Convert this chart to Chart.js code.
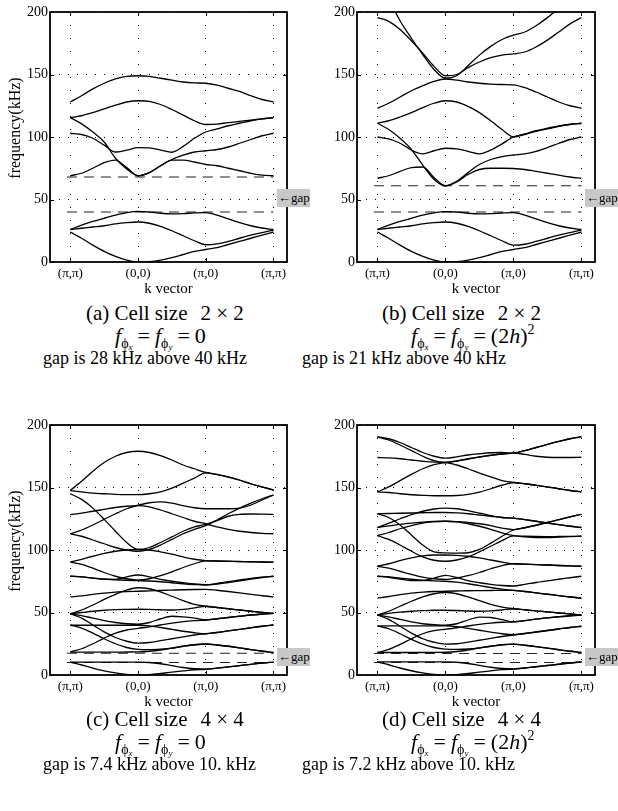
<!DOCTYPE html>
<html><head><meta charset="utf-8">
<script src="https://cdn.jsdelivr.net/npm/chart.js@4.4.0/dist/chart.umd.min.js"></script>
<style>
html,body{margin:0;padding:0;background:#fff;}
body{width:618px;height:811px;position:relative;overflow:hidden;font-family:"Liberation Serif","DejaVu Serif","Times New Roman",serif;color:#000;}
canvas{position:absolute;}
.cap{position:absolute;white-space:nowrap;line-height:1;}
.l1{font-size:21px;}
.l2{font-size:22px;}
.l3{font-size:18px;}
.gapx{margin-left:13px;}
.sub{font-size:14px;position:relative;top:5px;}
.sub2{font-size:9px;position:relative;top:2px;font-style:italic;}
.eq{margin:0 5px;}
.sup{font-size:14px;position:relative;top:-9px;}
.gap{position:absolute;background:#c8c8c8;font-size:13px;line-height:18px;height:18px;width:33px;padding-left:1px;box-sizing:border-box;white-space:nowrap;overflow:hidden;}
.ytitle{position:absolute;font-size:16px;white-space:nowrap;transform:translate(-50%,-50%) rotate(-90deg);}
</style></head>
<body>
<canvas id="ca" width="309" height="300" style="left:0;top:0"></canvas>
<canvas id="cb" width="309" height="300" style="left:309px;top:0"></canvas>
<canvas id="cc" width="309" height="300" style="left:0;top:413px"></canvas>
<canvas id="cd" width="309" height="300" style="left:309px;top:413px"></canvas>

<div class="ytitle" style="left:15px;top:128px">frequency(kHz)</div>
<div class="ytitle" style="left:15px;top:541px">frequency(kHz)</div>

<div class="gap" style="left:277px;top:189px">←gap</div>
<div class="gap" style="left:585px;top:189px">←gap</div>
<div class="gap" style="left:277px;top:648px">←gap</div>
<div class="gap" style="left:585px;top:648px">←gap</div>

<div class="cap l1" style="left:86px;top:303px">(a) Cell size<span class="gapx">2 × 2</span></div>
<div class="cap l2" style="left:115px;top:325px"><i>f</i><span class="sub">ϕ<span class="sub2">x</span></span><span class="eq">=</span><i>f</i><span class="sub">ϕ<span class="sub2">y</span></span><span class="eq">=</span>0</div>
<div class="cap l3" style="left:43px;top:349px">gap is 28 kHz above 40 kHz</div>

<div class="cap l1" style="left:382px;top:303px">(b) Cell size<span class="gapx">2 × 2</span></div>
<div class="cap l2" style="left:411px;top:325px"><i>f</i><span class="sub">ϕ<span class="sub2">x</span></span><span class="eq">=</span><i>f</i><span class="sub">ϕ<span class="sub2">y</span></span><span class="eq">=</span>(2<i>h</i>)<span class="sup">2</span></div>
<div class="cap l3" style="left:302px;top:349px">gap is 21 kHz above 40 kHz</div>

<div class="cap l1" style="left:86px;top:709px">(c) Cell size<span class="gapx">4 × 4</span></div>
<div class="cap l2" style="left:115px;top:731px"><i>f</i><span class="sub">ϕ<span class="sub2">x</span></span><span class="eq">=</span><i>f</i><span class="sub">ϕ<span class="sub2">y</span></span><span class="eq">=</span>0</div>
<div class="cap l3" style="left:43px;top:755px">gap is 7.4 kHz above 10. kHz</div>

<div class="cap l1" style="left:382px;top:709px">(d) Cell size<span class="gapx">4 × 4</span></div>
<div class="cap l2" style="left:411px;top:731px"><i>f</i><span class="sub">ϕ<span class="sub2">x</span></span><span class="eq">=</span><i>f</i><span class="sub">ϕ<span class="sub2">y</span></span><span class="eq">=</span>(2<i>h</i>)<span class="sup">2</span></div>
<div class="cap l3" style="left:302px;top:755px">gap is 7.2 kHz above 10. kHz</div>

<script>
// ---- data ----
const K = [0, 0.167, 0.333, 0.5, 0.667, 0.833, 1, 1.167, 1.333, 1.5, 1.667, 1.833, 2, 2.167, 2.333, 2.5, 2.667, 2.833, 3];
const X_TICK_POS = [0, 1, 2, 3];
const X_TICK_LABELS = ['(π,π)', '(0,0)', '(π,0)', '(π,π)'];
const Y_MIN = 0, Y_MAX = 200, Y_STEP = 50;

const GAP_A = [40, 68];
const GAP_B = [40, 61];
const GAP_C = [10, 17.4];
const GAP_D = [10, 17.2];

const BANDS_A = [
  [128, 133, 138.5, 143, 146.5, 148.5, 149, 148.5, 147, 145.5, 144, 143.3, 143, 141.5, 139, 136.5, 133, 130, 128],
  [115.5, 117, 119.5, 122.5, 125.5, 128, 129, 128.5, 126, 122, 117.5, 113, 110, 110.3, 111.5, 112.5, 113.5, 114.5, 115.5],
  [115.5, 110.5, 104, 96, 83, 74.5, 69, 71.5, 77, 82, 85.5, 88, 89, 90, 92, 95, 98, 101, 103],
  [103, 102, 99, 93.5, 88, 89.5, 91.5, 91.3, 89.5, 87.8, 92.5, 99, 104, 106.5, 109, 111, 113, 114.5, 115.5],
  [69, 71, 75, 79.5, 81.5, 75.5, 69, 71.5, 77, 81.5, 81.5, 80, 78, 77, 75, 73, 71, 69.5, 69],
  [26, 29.5, 32.5, 35, 37.5, 39.5, 40.5, 40, 39, 38.5, 38.7, 39.3, 39.5, 37.5, 34.5, 31.5, 29, 27.2, 26],
  [26, 27, 28, 29, 30.5, 31.5, 32, 31, 28.5, 25, 21, 17, 13.8, 14.5, 16.5, 19, 21.5, 23.5, 25.5],
  [24, 19, 13.5, 8.5, 4.5, 1.5, 0, 0.3, 1.5, 3.5, 6, 8.5, 10, 11.5, 14, 16.5, 19, 21.5, 24]
];
const BANDS_B = [
  [195.5, 192.5, 186, 177, 167, 156.5, 149, 150, 155.5, 160, 163.5, 165.5, 166.5, 168, 172, 177.5, 184, 190.5, 195.5],
  [235, 211, 193, 179, 166, 154, 147, 149, 157, 165.5, 172.5, 178, 181.5, 184, 189, 195.5, 203, 210, 216],
  [123, 127, 132, 137, 141, 144.5, 146.4, 145.5, 144, 143, 142.3, 142, 141.7, 139.5, 136, 132, 128, 125, 123],
  [111, 113, 116, 119.5, 123.5, 127, 129, 128, 124.5, 119.5, 113, 106, 100, 102, 104.5, 106.5, 108.5, 110, 111],
  [111, 106, 99, 90, 77.5, 66, 61, 64.5, 71.5, 78, 82, 84.3, 85.6, 86.5, 88.5, 91.5, 95, 98, 100],
  [100, 98.5, 95, 89.5, 86.5, 89, 91, 90.5, 88.5, 86.5, 89.5, 94.5, 100, 102.5, 105, 107, 108.8, 110.2, 111],
  [67, 69, 72.5, 75.5, 76, 67.5, 61, 64, 70, 74, 75, 75, 74.8, 74, 72.5, 71, 69.5, 68, 67],
  [26, 29.5, 32.5, 35, 37.5, 39.3, 40.3, 40, 39, 38.5, 38.7, 39.2, 39.5, 37.5, 34.5, 31.5, 29, 27.2, 26],
  [26, 27, 28, 29, 30.5, 31.5, 32, 31, 28.5, 25, 21, 17, 13.5, 14.2, 16.5, 19, 21.5, 23.5, 25.5],
  [24, 19, 13.5, 8.5, 4.5, 1.5, 0, 0.3, 1.5, 3.5, 6, 8.5, 10, 11.5, 14, 16.5, 19, 21.5, 24]
];
const BANDS_C = [
  [147.7, 155, 163, 170, 175, 178, 179, 178, 175.5, 172, 168, 165, 162, 160.5, 158.5, 156, 153, 150.5, 148],
  [147.5, 146.5, 145.5, 145, 144.5, 144.3, 144.3, 145, 146.5, 149.5, 153.5, 157.5, 161.7, 160.3, 158.3, 155.8, 152.8, 150.3, 148],
  [145, 140.5, 133.5, 124.5, 115, 106, 100.5, 102, 106, 110.5, 115, 118.5, 120.5, 123.5, 127, 128.5, 128.8, 128.7, 128.5],
  [113, 111, 108, 105, 102, 100, 99, 100.5, 104, 108.5, 113, 116.5, 119.5, 124, 129, 133.5, 137.5, 141, 144],
  [128.3, 129.5, 131, 132.5, 134, 135, 135.5, 134.5, 132, 129, 126, 123, 121, 118.5, 116.5, 115, 114, 113.3, 113],
  [113, 116, 120, 124.5, 129, 133, 135.8, 137.8, 138.5, 137.5, 135.5, 133.8, 133, 133, 133, 133.5, 136, 140, 144],
  [90.3, 92.5, 95, 97.3, 99, 100, 100.4, 100, 98.5, 96.7, 94.5, 92.6, 91.5, 91.2, 91, 90.8, 90.6, 90.4, 90.3],
  [90.3, 88.5, 85.5, 82, 79, 77, 76, 77, 79.5, 82.5, 86, 89, 91.3, 91.1, 90.9, 90.7, 90.5, 90.4, 90.3],
  [79, 78.5, 77.5, 76.5, 76.5, 78.5, 80, 78.5, 76.5, 75, 73.8, 72.8, 72.3, 73.3, 74.7, 76, 77.3, 78.3, 79],
  [79, 78.5, 77.5, 76.8, 76.2, 75.8, 75.5, 75.2, 74.6, 73.8, 73, 72.4, 72, 72.8, 74, 75.3, 76.7, 78, 79],
  [49, 52, 56, 60.5, 64.5, 68, 69.8, 69, 66.5, 63, 59.5, 56.5, 55, 54, 53, 52, 51, 50, 49.3],
  [62.5, 63.3, 64.5, 65.5, 66.3, 66.8, 67, 67.3, 67.6, 67.9, 68.2, 68.4, 68.5, 67.8, 66.8, 65.7, 64.5, 63.4, 62.5],
  [49, 50, 51, 51.8, 52.3, 52.5, 52.6, 52.5, 52.2, 52, 52.5, 53.7, 55, 54, 53, 52, 51, 50, 49.3],
  [49, 47.5, 45.5, 43.5, 42, 41, 40.6, 42, 45, 47, 46.5, 45.5, 44, 45, 46, 47, 48, 48.7, 49.3],
  [49, 45.5, 40, 34.5, 30, 27, 25.5, 26, 27.5, 29, 30.5, 32, 33, 34, 35.3, 36.5, 37.8, 39, 40],
  [18.5, 21, 25, 29.5, 33.5, 36, 37.3, 38.5, 40, 41.5, 42.7, 43.5, 44, 45, 46, 47, 48, 48.7, 49.3],
  [39.8, 39.8, 39.8, 39.8, 39.8, 39.8, 39.8, 39.3, 38, 36.5, 35, 33.8, 33, 34, 35.3, 36.5, 37.8, 39, 40],
  [40, 37.5, 33.5, 29, 25, 22, 20.5, 20.3, 20.7, 21.5, 23, 24.2, 24.8, 24, 23, 21.7, 20.3, 19, 18],
  [18.3, 18.3, 18.3, 18.3, 18.3, 18.4, 18.5, 19, 20, 21.5, 23, 24.2, 24.8, 24, 23, 21.7, 20.3, 19, 18],
  [10.3, 10.3, 10.3, 10.3, 10.3, 10.3, 10.3, 10, 9, 7.5, 6, 5, 4.6, 5.5, 6.5, 7.5, 8.5, 9.5, 10.3],
  [10.3, 8, 5.5, 3.3, 1.7, 0.5, 0, 0.3, 1.2, 2.3, 3.3, 4.2, 4.6, 5.5, 6.5, 7.5, 8.5, 9.5, 10.3]
];
const BANDS_D = [
  [190.5, 189, 186, 182, 178, 175, 173.5, 174.5, 176, 177, 177.8, 178, 177.5, 179.5, 182, 184.5, 186.8, 189, 190.5],
  [190.5, 188, 184, 179.5, 175, 171.5, 170, 171, 172.8, 174.3, 175.7, 176.8, 177.5, 176.5, 175, 174.2, 174, 174, 174.2],
  [174, 173.7, 173, 172, 171, 170.3, 170, 168, 165, 161.5, 158.5, 155.5, 154, 153, 151.8, 150.5, 149, 147.6, 146.5],
  [146.5, 150.5, 155.5, 160.5, 165, 168.3, 170, 171.3, 173, 174.5, 175.8, 176.8, 177.5, 179.5, 182, 184.5, 186.8, 189, 190.5],
  [146.5, 146, 145, 144.2, 143.7, 143.4, 143.4, 143.6, 144.5, 146.3, 149, 151.8, 154, 153, 151.8, 150.5, 149, 147.6, 146.5],
  [129, 129.2, 129.4, 129.6, 129.8, 130, 130, 129.7, 129, 128, 127, 126, 125.5, 124.3, 123, 121.6, 120.3, 119, 118],
  [118, 121.5, 125, 128.3, 131, 132.8, 133.5, 133, 131.5, 129.5, 127.5, 126, 125.5, 124.3, 123, 121.6, 120.3, 119, 118],
  [111.5, 114, 117, 119.5, 121.5, 122.7, 123, 122.7, 122, 121, 119.5, 117.5, 116.3, 117.8, 119.8, 122, 124.3, 126.5, 128.5],
  [118, 119.3, 120.5, 121.5, 122.3, 122.8, 123, 122.5, 121, 119, 116.5, 113.7, 111.5, 110.5, 110, 110, 110.3, 110.7, 111],
  [129, 126, 120, 112, 104, 98.5, 97.7, 97.5, 97.8, 100.5, 105.5, 111, 116, 117.8, 119.8, 122, 124.3, 126.5, 128.5],
  [111.5, 108.5, 104, 99, 94.5, 91.8, 91, 92, 94.5, 98.5, 103, 107.5, 111.3, 111, 110.8, 110.7, 110.8, 110.9, 111],
  [87, 89, 91.5, 93.7, 95.3, 96, 96, 95.7, 95, 93.7, 92, 90.3, 89, 88.7, 88.3, 88, 87.6, 87.3, 87],
  [87, 85.5, 83, 80.5, 78.3, 77, 76.5, 77.5, 79.5, 82, 85, 87.5, 89, 88.7, 88.3, 88, 87.6, 87.3, 87],
  [79, 78.2, 76.8, 75.5, 75.5, 77.5, 79.7, 78, 75.5, 73.8, 72.5, 71.6, 71.2, 72.5, 74, 75.3, 76.6, 77.8, 79],
  [79, 78.5, 77.5, 76.6, 75.8, 75.3, 75, 74.3, 73, 71.5, 70, 68.7, 67.7, 66.8, 65.7, 64.6, 63.5, 62.4, 61.5],
  [61.5, 62.8, 64.3, 65.5, 66.3, 66.8, 67, 67.2, 67.4, 67.5, 67.6, 67.7, 67.7, 66.8, 65.7, 64.6, 63.5, 62.4, 61.5],
  [48, 51, 55, 59, 62.5, 65, 66, 65, 62.5, 59.5, 56.5, 54.3, 53, 52.2, 51.3, 50.5, 49.6, 48.8, 48],
  [48, 49.3, 50.3, 51, 51.5, 51.8, 51.8, 51.6, 51.2, 51, 51.3, 52, 53, 52.2, 51.3, 50.5, 49.6, 48.8, 48],
  [48, 46.5, 44.5, 42.5, 41, 40.2, 39.8, 41, 44, 46.3, 46, 44.3, 42.5, 43.5, 44.7, 45.7, 46.6, 47.4, 48],
  [48, 44.5, 39, 33.5, 29, 26.2, 24.7, 25, 26.3, 27.8, 29.3, 30.8, 32, 33.2, 34.4, 35.6, 36.8, 38, 39],
  [18, 20.5, 24.5, 29, 33, 35.5, 36.6, 37.8, 39.2, 40.5, 41.5, 42.2, 42.5, 43.5, 44.7, 45.7, 46.6, 47.4, 48],
  [39.3, 39.3, 39.3, 39.3, 39.3, 39.3, 39.3, 38.7, 37.3, 35.8, 34.3, 33, 32.2, 33.2, 34.4, 35.6, 36.8, 38, 39],
  [39.3, 37, 33, 28.5, 24.7, 22, 20.7, 20.5, 20.8, 21.7, 23, 24.2, 24.7, 23.8, 22.7, 21.5, 20.2, 19, 18],
  [18, 18, 18, 18, 18, 18.1, 18.2, 18.8, 20, 21.6, 23, 24.2, 24.7, 23.8, 22.7, 21.5, 20.2, 19, 18],
  [10.5, 10.5, 10.5, 10.5, 10.5, 10.5, 10.5, 10.2, 9.2, 7.7, 6.2, 5.2, 4.8, 5.6, 6.6, 7.6, 8.6, 9.6, 10.5],
  [10.5, 8.2, 5.6, 3.4, 1.7, 0.5, 0, 0.3, 1.2, 2.3, 3.3, 4.3, 4.8, 5.6, 6.6, 7.6, 8.6, 9.6, 10.5]
];

// ---- chart building ----
Chart.defaults.font.family = '"Liberation Serif", "DejaVu Serif", "Times New Roman", serif';
Chart.defaults.color = '#000';

const framePlugin = {
  id: 'frame',
  afterDraw(chart) {
    const {ctx, chartArea: a, scales: {x, y}} = chart;
    ctx.save();
    ctx.strokeStyle = '#000';
    ctx.lineWidth = 1;
    ctx.beginPath();
    X_TICK_POS.forEach(v => {
      const px = Math.round(x.getPixelForValue(v)) + 0.5;
      ctx.moveTo(px, a.bottom); ctx.lineTo(px, a.bottom - 4);
      ctx.moveTo(px, a.top); ctx.lineTo(px, a.top + 4);
    });
    for (let v = Y_MIN; v <= Y_MAX; v += Y_STEP) {
      const py = Math.round(y.getPixelForValue(v)) + 0.5;
      ctx.moveTo(a.left, py); ctx.lineTo(a.left + 4, py);
      ctx.moveTo(a.right, py); ctx.lineTo(a.right - 4, py);
    }
    ctx.stroke();
    ctx.lineWidth = 1.8;
    ctx.strokeRect(a.left, a.top, a.right - a.left, a.bottom - a.top);
    ctx.restore();
  }
};

function makePanel(id, bands, gaps, yAxisW, padRight) {
  const datasets = bands.map(b => ({
    data: K.map((k, i) => ({x: k, y: b[i]})),
    borderColor: '#000', borderWidth: 1.3, pointRadius: 0,
    cubicInterpolationMode: 'monotone', fill: false
  }));
  gaps.forEach(g => datasets.push({
    data: [{x: -0.05, y: g}, {x: 3, y: g}],
    borderColor: '#222', borderWidth: 1.2, borderDash: [10, 7],
    pointRadius: 0, fill: false
  }));
  new Chart(document.getElementById(id), {
    type: 'line',
    data: {datasets},
    plugins: [framePlugin],
    options: {
      responsive: false, animation: false, events: [],
      layout: {padding: {top: 12, right: padRight, left: 0, bottom: 0}},
      plugins: {legend: {display: false}, tooltip: {enabled: false}},
      scales: {
        x: {
          type: 'linear', min: -0.3, max: 3.2,
          afterBuildTicks: s => { s.ticks = X_TICK_POS.map(v => ({value: v})); },
          afterFit: s => { s.height = 38; },
          ticks: {callback: (v, i) => X_TICK_LABELS[i], font: {size: 13}, padding: 4, maxRotation: 0, autoSkip: false, color: '#000'},
          grid: {color: '#000', lineWidth: 1, drawTicks: false},
          border: {display: false, dash: [1, 12]},
          title: {display: true, text: 'k vector', font: {size: 15}, padding: {top: 0, bottom: 2}, color: '#000'}
        },
        y: {
          type: 'linear', min: Y_MIN, max: Y_MAX,
          afterFit: s => { s.width = yAxisW; },
          ticks: {stepSize: Y_STEP, font: {size: 14}, padding: 2, color: '#000'},
          grid: {color: '#000', lineWidth: 1, drawTicks: false},
          border: {display: false, dash: [1, 8]}
        }
      }
    }
  });
}

makePanel('ca', BANDS_A, GAP_A, 50, 22);
makePanel('cb', BANDS_B, GAP_B, 48, 23);
makePanel('cc', BANDS_C, GAP_C, 50, 22);
makePanel('cd', BANDS_D, GAP_D, 48, 23);
</script>
</body></html>
